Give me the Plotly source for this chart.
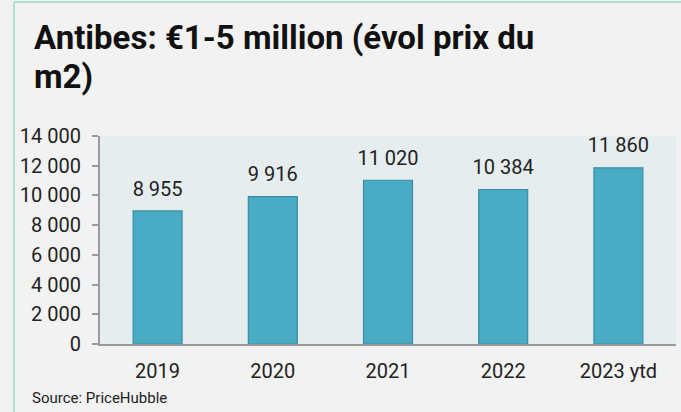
import plotly.graph_objects as go

# Price per m² for €1-5 million properties in Antibes
years = ["2019", "2020", "2021", "2022", "2023 ytd"]
prices = [8955, 9916, 11020, 10384, 11860]
y_ticks = [0, 2000, 4000, 6000, 8000, 10000, 12000, 14000]
title_lines = ["Antibes: €1-5 million (évol prix du", "m2)"]

W, H = 681, 412
L, R, T, B = 100, 5, 136, 68
plot_w = W - L - R
plot_h = H - T - B


def px_x(px):
    return (px - L) / plot_w


def px_y(py):
    return (H - B - py) / plot_h


fig = go.Figure()
fig.add_trace(go.Bar(
    x=years,
    y=prices,
    width=0.425,
    marker=dict(color="#4aabc5", line=dict(color="#3b8da3", width=1.2)),
    hoverinfo="skip",
))

# value labels above each bar (invisible markers push the text up)
fig.add_trace(go.Scatter(
    x=years,
    y=prices,
    mode="markers+text",
    marker=dict(size=15, color="rgba(0,0,0,0)"),
    texttemplate="%{y:,d}",
    textposition="top center",
    textfont=dict(family="Roboto", size=20, color="#222222"),
    hoverinfo="skip",
    cliponaxis=False,
))

# title, one annotation per line
for i, line in enumerate(title_lines):
    fig.add_annotation(
        x=px_x(32), y=px_y(16 + 39 * i), xref="paper", yref="paper",
        text=f"<b>{line}</b>",
        showarrow=False, xanchor="left", yanchor="top", align="left",
        font=dict(family="Roboto", size=33, color="#111111"),
    )

# source note
fig.add_annotation(
    x=px_x(30), y=px_y(398), xref="paper", yref="paper",
    text="Source: PriceHubble",
    showarrow=False, xanchor="left", yanchor="middle",
    font=dict(family="Roboto", size=15, color="#222222"),
)

# frame edges (left and top)
fig.add_shape(type="line", xref="paper", yref="paper",
              x0=px_x(14), x1=px_x(14), y0=px_y(2), y1=-1,
              line=dict(color="#a8e0d1", width=2))
fig.add_shape(type="line", xref="paper", yref="paper",
              x0=px_x(14), x1=2, y0=px_y(2), y1=px_y(2),
              line=dict(color="#a8e0d1", width=2))

fig.update_layout(
    width=W, height=H,
    margin=dict(l=L, r=R, t=T, b=B, pad=0),
    paper_bgcolor="#f2f2f2",
    plot_bgcolor="#e5edef",
    showlegend=False,
    separators=". ",
    font=dict(family="Roboto", size=20, color="#222222"),
    xaxis=dict(
        type="category",
        range=[-0.5, len(years) - 0.5],
        showline=True, linecolor="#9a9a9a", linewidth=2,
        ticks="", showgrid=False, tickfont=dict(size=20, color="#222222"),
        ticklabelstandoff=8,
    ),
    yaxis=dict(
        range=[0, 14000], tickvals=y_ticks, separatethousands=True,
        tickformat=",d",
        showline=True, linecolor="#9a9a9a", linewidth=2,
        ticks="outside", ticklen=6, tickcolor="#9a9a9a", tickwidth=2,
        showgrid=False, zeroline=False,
        tickfont=dict(size=20, color="#222222"),
        ticklabelstandoff=7,
    ),
)

fig.write_html("out.html")
